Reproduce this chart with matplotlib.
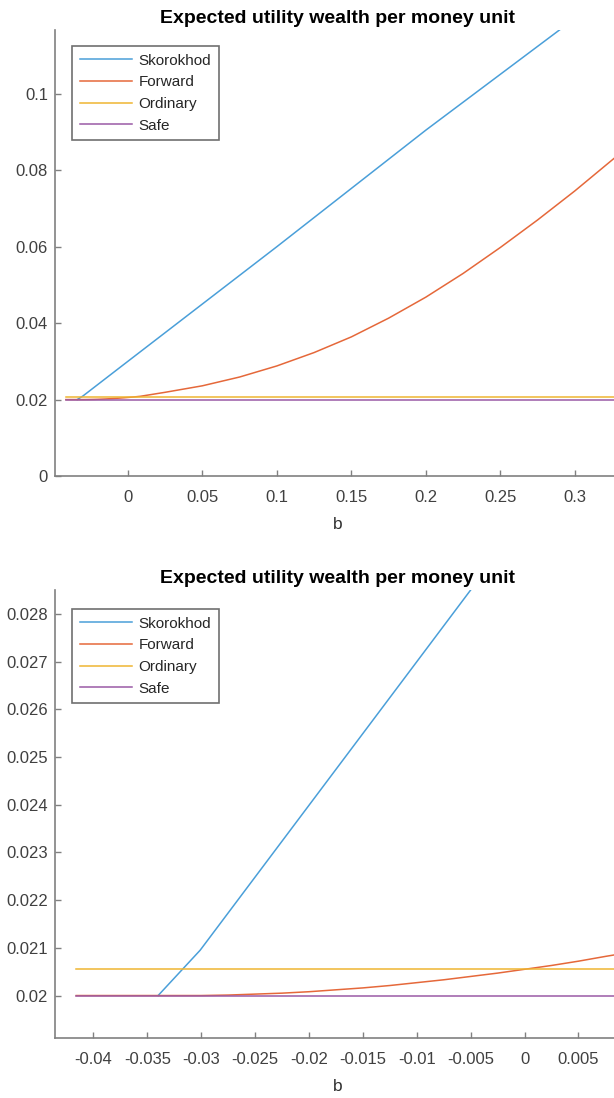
#!/usr/bin/env python
import matplotlib as mpl
mpl.use('Agg')
import matplotlib.pyplot as plt

params = {'font.family': ['Liberation Sans', 'DejaVu Sans'],
          'font.size': 12,
          'axes.edgecolor': '#808080',
          'axes.linewidth': 1.2,
          'xtick.color': '#808080',
          'ytick.color': '#808080',
          'xtick.labelcolor': '#404040',
          'ytick.labelcolor': '#404040',
          'xtick.direction': 'in',
          'ytick.direction': 'in',
          }
mpl.rcParams.update(params)

# MATLAB-like line colours
colors = ['#4a9fd9', '#e5683a', '#efb531', '#9a5aa6']
names = ['Skorokhod', 'Forward', 'Ordinary', 'Safe']

# data
b_sko = [-0.034, -0.0301, -0.005, 0.1, 0.2, 0.29, 0.34]
u_sko = [0.0200, 0.02095, 0.0285, 0.0600, 0.0905, 0.1168, 0.1320]

b_fwd = [-0.0416, -0.035, -0.03, -0.0275, -0.025, -0.0225, -0.02, -0.0175, -0.015, -0.0125,
         -0.01, -0.0075, -0.005, -0.0025, 0.0, 0.0025, 0.005, 0.0075, 0.0083,
         0.025, 0.05, 0.075, 0.1, 0.125, 0.15, 0.175, 0.2, 0.225, 0.25, 0.275, 0.3, 0.33, 0.34]
u_fwd = [0.02000, 0.02000, 0.02000, 0.02001, 0.02003, 0.02005, 0.02008, 0.02012, 0.02016, 0.02021,
         0.02027, 0.02033, 0.02040, 0.02047, 0.02055, 0.02063, 0.02072, 0.02082, 0.02085,
         0.0219, 0.0236, 0.0259, 0.0288, 0.0323, 0.0364, 0.0413, 0.0468, 0.0530, 0.0598, 0.0670,
         0.0746, 0.0843, 0.0876]

b_flat = [-0.0416, 0.34]
u_ord = [0.02055, 0.02055]
u_safe = [0.0200, 0.0200]

W, H = 614, 1098
fig = plt.figure(figsize=(W / 100, H / 100), dpi=100, facecolor='w')

def px_box(left, top, right, bottom):
    return [left / W, 1 - bottom / H, (right - left) / W, (bottom - top) / H]

ax1 = fig.add_axes(px_box(55, 30, 620, 476))
ax2 = fig.add_axes(px_box(55, 590, 620, 1038))

for ax in (ax1, ax2):
    ax.plot(b_sko, u_sko, color=colors[0], lw=1.1, label=names[0])
    ax.plot(b_fwd, u_fwd, color=colors[1], lw=1.1, label=names[1])
    ax.plot(b_flat, u_ord, color=colors[2], lw=1.1, label=names[2])
    ax.plot(b_flat, u_safe, color=colors[3], lw=1.1, label=names[3])
    ax.spines['top'].set_visible(False)
    ax.spines['right'].set_visible(False)
    ax.tick_params(length=4, width=1)
    ax.tick_params(axis='x', pad=10)
    ax.tick_params(axis='y', pad=5)
    ax.set_title('Expected utility wealth per money unit', fontsize=14, fontweight='bold', pad=5)
    ax.set_xlabel('b', fontsize=12.5, color='#303030', labelpad=9)

ax1.set_xlim(-0.0489, 0.3303)
ax1.set_ylim(0, 0.1167)
ax1.set_xticks([0, 0.05, 0.1, 0.15, 0.2, 0.25, 0.3])
ax1.set_xticklabels(['0', '0.05', '0.1', '0.15', '0.2', '0.25', '0.3'])
ax1.set_yticks([0, 0.02, 0.04, 0.06, 0.08, 0.1])
ax1.set_yticklabels(['0', '0.02', '0.04', '0.06', '0.08', '0.1'])

ax2.set_xlim(-0.04357, 0.00886)
ax2.set_ylim(0.01911, 0.0285)
xt2 = [-0.04, -0.035, -0.03, -0.025, -0.02, -0.015, -0.01, -0.005, 0, 0.005]
ax2.set_xticks(xt2)
ax2.set_xticklabels(['-0.04', '-0.035', '-0.03', '-0.025', '-0.02', '-0.015', '-0.01', '-0.005', '0', '0.005'])
yt2 = [0.02, 0.021, 0.022, 0.023, 0.024, 0.025, 0.026, 0.027, 0.028]
ax2.set_yticks(yt2)
ax2.set_yticklabels(['0.02', '0.021', '0.022', '0.023', '0.024', '0.025', '0.026', '0.027', '0.028'])

for ax, top in ((ax1, 46), (ax2, 609)):
    leg = ax.legend(loc='upper left', bbox_to_anchor=(72 / W, 1 - top / H),
                    bbox_transform=fig.transFigure, borderaxespad=0,
                    fontsize=11, handlelength=3.4, handletextpad=0.45,
                    labelspacing=0.5, borderpad=0.5, fancybox=False, framealpha=1)
    leg.get_frame().set_edgecolor('#707070')
    leg.get_frame().set_linewidth(1.2)
    for t in leg.get_texts():
        t.set_color('#262626')

fig.savefig('out.png', dpi=100, facecolor='w')
